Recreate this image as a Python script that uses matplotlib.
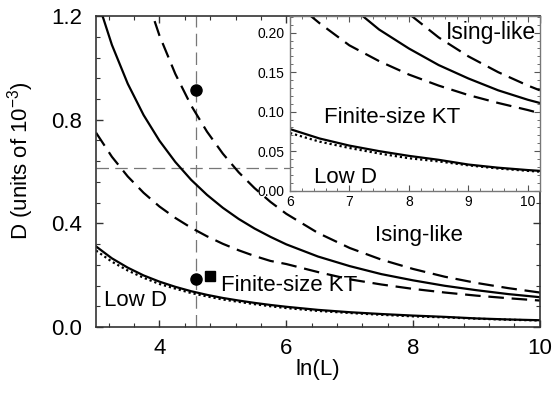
import matplotlib
matplotlib.use("Agg")
import matplotlib.pyplot as plt
from matplotlib.ticker import MultipleLocator, FormatStrFormatter

plt.rcParams["font.family"] = ["Liberation Sans", "DejaVu Sans"]
plt.rcParams["mathtext.fontset"] = "custom"
plt.rcParams["mathtext.rm"] = "Liberation Sans"
plt.rcParams["mathtext.it"] = "Liberation Sans:italic"

# ln(L) grid
lnL = [3.0, 3.25, 3.5, 3.75, 4.0, 4.25, 4.5, 4.75, 5.0, 5.25, 5.5, 5.75, 6.0,
       6.5, 7.0, 7.5, 8.0, 8.5, 9.0, 9.5, 10.0, 10.2]
# upper dashed boundary (Ising-like)
ising_upper = [2.20, 1.825, 1.535, 1.307, 1.125, 0.977, 0.855, 0.754, 0.669, 0.597,
               0.536, 0.483, 0.437, 0.363, 0.305, 0.260, 0.224, 0.194, 0.170, 0.150,
               0.133, 0.127]
# middle solid curve
ising_mid = [1.278, 1.089, 0.939, 0.818, 0.719, 0.637, 0.568, 0.510, 0.460, 0.417,
             0.380, 0.348, 0.319, 0.272, 0.235, 0.204, 0.180, 0.159, 0.142, 0.127,
             0.115, 0.111]
# lower dashed boundary
ising_lower = [0.750, 0.657, 0.581, 0.518, 0.465, 0.421, 0.383, 0.350, 0.321, 0.296,
               0.274, 0.255, 0.243, 0.212, 0.184, 0.164, 0.147, 0.133, 0.121, 0.111,
               0.102, 0.098]
# low-D solid boundary
lowd_solid = [0.311, 0.265, 0.229, 0.199, 0.175, 0.155, 0.138, 0.124, 0.112, 0.102,
              0.093, 0.085, 0.078, 0.066, 0.057, 0.050, 0.044, 0.039, 0.033, 0.029,
              0.026, 0.025]
# low-D dotted boundary
lowd_dot = [0.295, 0.252, 0.218, 0.190, 0.166, 0.148, 0.131, 0.118, 0.106, 0.097,
            0.088, 0.080, 0.073, 0.062, 0.054, 0.047, 0.041, 0.037, 0.032, 0.028,
            0.025, 0.024]

circle_x = [4.58, 4.58]
circle_y = [0.915, 0.184]
square_x = [4.80]
square_y = [0.197]
ref_x = 4.58
ref_y = 0.614

fig = plt.figure(figsize=(5.52, 3.93), dpi=100)
ax = fig.add_axes([0.174, 0.168, 0.804, 0.791])


def draw_curves(a, lw=1.6):
    a.plot(lnL, ising_upper, color="black", lw=lw, dashes=(7, 3.5))
    a.plot(lnL, ising_mid, color="black", lw=lw)
    a.plot(lnL, ising_lower, color="black", lw=lw, dashes=(7, 3.5))
    a.plot(lnL, lowd_solid, color="black", lw=lw)
    a.plot(lnL, lowd_dot, color="black", lw=lw, linestyle=(0, (1, 1.3)))


ax.axvline(ref_x, color="#777777", lw=0.9, dashes=(10, 5))
ax.axhline(ref_y, color="#777777", lw=0.9, dashes=(10, 5))
draw_curves(ax)
ax.plot(circle_x, circle_y, "o", color="black", ms=8)
ax.plot(square_x, square_y, "s", color="black", ms=7)

ax.set_xlim(3, 10)
ax.set_ylim(0, 1.2)
ax.xaxis.set_major_locator(MultipleLocator(2))
ax.xaxis.set_minor_locator(MultipleLocator(0.4))
ax.yaxis.set_major_locator(MultipleLocator(0.4))
ax.yaxis.set_minor_locator(MultipleLocator(0.08))
ax.yaxis.set_major_formatter(FormatStrFormatter("%.1f"))
ax.tick_params(which="both", direction="in", top=True, right=True, labelsize=16,
               color="#333333")
ax.tick_params(which="major", length=5, width=1)
ax.tick_params(which="minor", length=3, width=0.8)
ax.tick_params(axis="y", pad=10)
ax.tick_params(axis="x", pad=8)
for s in ax.spines.values():
    s.set_color("#333333")
    s.set_linewidth(1.2)
ax.set_xlabel("ln(L)", fontsize=16, labelpad=0)
ax.set_ylabel("D (units of 10$^{-3}$)", fontsize=16)
ax.yaxis.set_label_coords(-0.135, 0.534)

ax.text(8.1, 0.355, "Ising-like", fontsize=16, ha="center", va="center")
ax.text(6.05, 0.16, "Finite-size KT", fontsize=16, ha="center", va="center")
ax.text(3.62, 0.104, "Low D", fontsize=16, ha="center", va="center")

# inset
ins = fig.add_axes([0.525, 0.515, 0.453, 0.444])
draw_curves(ins)
ins.set_xlim(6, 10.2)
ins.set_ylim(0, 0.221)
ins.xaxis.set_major_locator(MultipleLocator(1))
ins.xaxis.set_minor_locator(MultipleLocator(0.2))
ins.yaxis.set_major_locator(MultipleLocator(0.05))
ins.yaxis.set_minor_locator(MultipleLocator(0.01))
ins.yaxis.set_major_formatter(FormatStrFormatter("%.2f"))
ins.tick_params(which="both", direction="in", top=True, right=True, labelsize=10,
                color="#555555")
ins.tick_params(which="major", length=4, width=0.8)
ins.tick_params(which="minor", length=2, width=0.6)
ins.tick_params(axis="y", pad=4)
ins.tick_params(axis="x", pad=3)
for s in ins.spines.values():
    s.set_color("#777777")
    s.set_linewidth(1.0)

ins.text(9.38, 0.200, "Ising-like", fontsize=16.5, ha="center", va="center")
ins.text(7.72, 0.092, "Finite-size KT", fontsize=16, ha="center", va="center")
ins.text(6.93, 0.017, "Low D", fontsize=16, ha="center", va="center")

fig.savefig("out.png", dpi=100)
